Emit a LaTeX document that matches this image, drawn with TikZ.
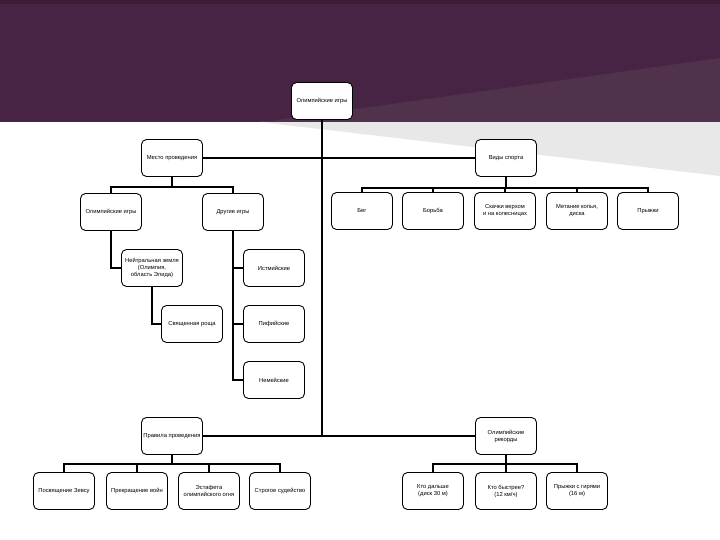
\documentclass[tikz,border=0pt]{standalone}
\usepackage{fontspec}
\setmainfont{Liberation Sans}
\usepackage{tikz}
\usetikzlibrary{positioning}

\definecolor{bandtop}{RGB}{58,29,52}
\definecolor{bandmid}{RGB}{71,36,67}
\definecolor{wedgegrey}{RGB}{232,232,232}

\begin{document}
\begin{tikzpicture}[
  x=1pt, y=-1pt,
  box/.style={draw, rounded corners=5pt, fill=white, line width=0.9pt, align=center,
    minimum width=61pt, minimum height=37pt, inner sep=1pt,
    font=\fontsize{5.8}{7}\selectfont},
  link/.style={line width=1.7pt}
]
\useasboundingbox (0,0) rectangle (720,540);
% background band
\fill[white] (0,0) rectangle (720,540);
\fill[bandmid] (0,0) rectangle (720,122);
\fill[bandtop] (0,0) rectangle (720,4);
\fill[wedgegrey] (260,122) -- (720,122) -- (720,176) -- cycle;
\fill[bandmid!85!gray] (263,122) -- (720,58) -- (720,122) -- cycle;

\node[box] (root) at (322,101) {Олимпийские игры};
\node[box] (place) at (172,158) {Место проведения};
\node[box] (sports) at (506,158) {Виды спорта};

% where
\node[box] (olym) at (111,212) {Олимпийские игры};
\node[box] (other) at (233,212) {Другие игры};
\node[box] (neutral) at (152,268) {Нейтральная земля\\(Олимпия,\\область Элида)};
\node[box] (grove) at (192,324) {Священная роща};
\node[box] (isth) at (274,268) {Истмийские};
\node[box] (pyth) at (274,324) {Пифийские};
\node[box] (nem) at (274,380) {Немейские};

% sports
\node[box] (run) at (362,211) {Бег};
\node[box] (wrestle) at (433,211) {Борьба};
\node[box] (ride) at (505,211) {Скачки верхом\\и на колесницах};
\node[box] (throw) at (577,211) {Метание копья,\\диска};
\node[box] (jump) at (648,211) {Прыжки};

% rules and records
\node[box] (rules) at (172,436) {Правила проведения};
\node[box] (records) at (506,436) {Олимпийские\\рекорды};
\node[box] (zeus) at (64,491) {Посвящение Зевсу};
\node[box] (peace) at (137,491) {Прекращение войн};
\node[box] (torch) at (209,491) {Эстафета\\олимпийского огня};
\node[box] (judge) at (280,491) {Строгое судейство};
\node[box] (far) at (433,491) {Кто дальше\\(диск 30 м)};
\node[box] (fast) at (506,491) {Кто быстрее?\\(12 км/ч)};
\node[box] (weights) at (577,491) {Прыжки с гирями\\(16 м)};

\draw[link] (root.south) -- (root.south |- rules.east);
\draw[link] (place) -- (sports);
\draw[link] (rules) -- (records);

\draw[link] (place.south) -- ++(0,10) -| (olym.north);
\draw[link] (place.south) ++(0,10) -| (other.north);
\draw[link] (olym.south) |- (neutral.west);
\draw[link] (neutral.south) |- (grove.west);
\draw[link] (other.south) |- (isth.west);
\draw[link] (other.south) |- (pyth.west);
\draw[link] (other.south) |- (nem.west);

\draw[link] (sports.south) -- ++(0,11) -| (run.north);
\draw[link] (sports.south) ++(0,11) -| (wrestle.north);
\draw[link] (sports.south) ++(0,11) -| (ride.north);
\draw[link] (sports.south) ++(0,11) -| (throw.north);
\draw[link] (sports.south) ++(0,11) -| (jump.north);

\draw[link] (rules.south) -- ++(0,9) -| (zeus.north);
\draw[link] (rules.south) ++(0,9) -| (peace.north);
\draw[link] (rules.south) ++(0,9) -| (torch.north);
\draw[link] (rules.south) ++(0,9) -| (judge.north);
\draw[link] (records.south) -- ++(0,9) -| (far.north);
\draw[link] (records.south) ++(0,9) -| (fast.north);
\draw[link] (records.south) ++(0,9) -| (weights.north);
\end{tikzpicture}
\end{document}
